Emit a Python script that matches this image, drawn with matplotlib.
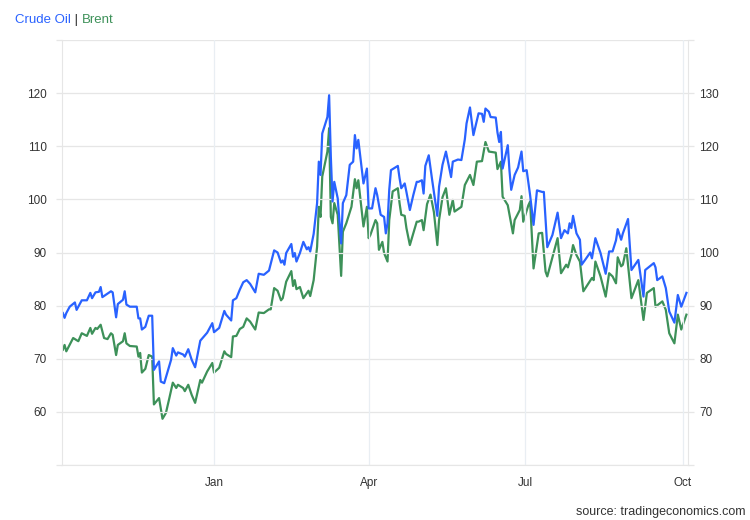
import matplotlib
matplotlib.use("Agg")
import matplotlib.pyplot as plt
import pandas as pd

plt.rcParams['font.family'] = ['Liberation Sans', 'DejaVu Sans']

# ---------------- data ----------------
crude_dates = [
    "2021-10-05", "2021-10-06", "2021-10-07", "2021-10-09", "2021-10-12", "2021-10-13",
    "2021-10-16", "2021-10-19", "2021-10-21", "2021-10-22", "2021-10-24", "2021-10-26",
    "2021-10-27", "2021-10-28", "2021-11-02", "2021-11-03", "2021-11-05", "2021-11-06",
    "2021-11-09", "2021-11-10", "2021-11-11", "2021-11-13", "2021-11-17", "2021-11-18",
    "2021-11-19", "2021-11-20", "2021-11-22", "2021-11-24", "2021-11-26", "2021-11-27",
    "2021-11-30", "2021-12-01", "2021-12-03", "2021-12-04", "2021-12-07", "2021-12-08",
    "2021-12-10", "2021-12-11", "2021-12-14", "2021-12-15", "2021-12-17", "2021-12-19",
    "2021-12-21", "2021-12-24", "2021-12-28", "2021-12-31", "2022-01-01", "2022-01-04",
    "2022-01-07", "2022-01-08", "2022-01-11", "2022-01-12", "2022-01-14", "2022-01-16",
    "2022-01-18", "2022-01-20", "2022-01-22", "2022-01-25", "2022-01-27", "2022-01-30",
    "2022-02-02", "2022-02-05", "2022-02-07", "2022-02-09", "2022-02-10", "2022-02-11",
    "2022-02-12", "2022-02-15", "2022-02-16", "2022-02-17", "2022-02-18", "2022-02-20",
    "2022-02-22", "2022-02-24", "2022-02-25", "2022-02-26", "2022-02-28", "2022-03-02",
    "2022-03-03", "2022-03-04", "2022-03-05", "2022-03-08", "2022-03-09", "2022-03-10",
    "2022-03-11", "2022-03-12", "2022-03-14", "2022-03-16", "2022-03-17", "2022-03-19",
    "2022-03-21", "2022-03-23", "2022-03-24", "2022-03-25", "2022-03-26", "2022-03-29",
    "2022-03-31", "2022-04-01", "2022-04-03", "2022-04-05", "2022-04-06", "2022-04-08",
    "2022-04-10", "2022-04-11", "2022-04-12", "2022-04-13", "2022-04-14", "2022-04-18",
    "2022-04-19", "2022-04-20", "2022-04-22", "2022-04-23", "2022-04-25", "2022-04-27",
    "2022-04-29", "2022-04-30", "2022-05-02", "2022-05-03", "2022-05-04", "2022-05-06",
    "2022-05-08", "2022-05-11", "2022-05-12", "2022-05-14", "2022-05-16", "2022-05-19",
    "2022-05-20", "2022-05-23", "2022-05-25", "2022-05-27", "2022-05-28", "2022-05-30",
    "2022-06-01", "2022-06-04", "2022-06-06", "2022-06-07", "2022-06-08", "2022-06-10",
    "2022-06-11", "2022-06-14", "2022-06-15", "2022-06-16", "2022-06-17", "2022-06-18",
    "2022-06-21", "2022-06-22", "2022-06-23", "2022-06-25", "2022-06-27", "2022-06-29",
    "2022-06-30", "2022-07-02", "2022-07-04", "2022-07-06", "2022-07-08", "2022-07-11",
    "2022-07-12", "2022-07-14", "2022-07-17", "2022-07-20", "2022-07-22", "2022-07-24",
    "2022-07-26", "2022-07-27", "2022-07-28", "2022-07-29", "2022-07-31", "2022-08-02",
    "2022-08-03", "2022-08-05", "2022-08-08", "2022-08-09", "2022-08-11", "2022-08-14",
    "2022-08-17", "2022-08-19", "2022-08-21", "2022-08-23", "2022-08-24", "2022-08-26",
    "2022-08-27", "2022-08-30", "2022-09-01", "2022-09-05", "2022-09-08", "2022-09-09",
    "2022-09-14", "2022-09-15", "2022-09-16", "2022-09-19", "2022-09-21", "2022-09-23",
    "2022-09-26", "2022-09-28", "2022-09-30", "2022-10-03",
]
crude_values = [
    78.6, 77.7, 78.6, 79.8, 80.6, 79.2,
    81.0, 81.0, 82.4, 81.4, 82.5, 82.6,
    83.5, 81.6, 82.7, 82.5, 77.8, 80.3,
    81.1, 82.7, 80.2, 79.8, 79.8, 77.6,
    77.6, 75.5, 76.0, 78.1, 78.1, 67.9,
    69.5, 65.7, 65.4, 66.5, 69.8, 72.0,
    70.6, 71.2, 70.8, 70.4, 71.8, 69.8,
    68.4, 73.4, 74.9, 76.7, 75.0, 75.8,
    79.0, 78.3, 77.2, 81.0, 81.4, 83.0,
    84.4, 84.8, 84.1, 82.5, 86.0, 85.8,
    86.6, 90.4, 90.0, 88.1, 88.5, 87.7,
    89.9, 91.6, 89.2, 89.9, 88.3, 89.9,
    92.0, 90.6, 91.0, 90.2, 93.5, 99.3,
    107.1, 104.6, 112.4, 115.5, 119.6, 108.0,
    99.6, 103.3, 100.2, 91.7, 99.3, 100.8,
    106.5, 107.1, 112.1, 109.6, 111.2, 103.0,
    105.8, 98.3, 98.3, 102.1, 100.8, 97.1,
    96.7, 93.6, 95.5, 101.8, 105.5, 106.3,
    104.0, 102.1, 103.0, 101.4, 98.0, 100.8,
    103.3, 103.3, 103.6, 101.1, 106.3, 108.3,
    103.6, 96.9, 102.4, 106.5, 109.0, 104.2,
    107.1, 107.5, 107.4, 111.3, 114.3, 117.3,
    112.1, 116.2, 116.1, 114.6, 117.1, 116.5,
    115.5, 115.4, 112.6, 110.8, 112.7, 105.8,
    110.2, 105.4, 101.8, 104.6, 106.0, 109.0,
    105.3, 105.5, 100.8, 95.2, 101.7, 101.4,
    101.4, 91.0, 93.3, 97.5, 92.7, 94.2,
    93.6, 95.5, 94.6, 96.9, 93.6, 92.4,
    87.7, 88.6, 90.0, 88.9, 92.7, 89.9,
    86.0, 90.2, 90.2, 92.3, 94.4, 92.4,
    93.6, 96.3, 86.7, 88.6, 81.7, 86.7,
    88.0, 87.2, 84.8, 85.5, 83.3, 78.9,
    76.8, 82.0, 79.8, 82.4,
]

brent_dates = [
    "2021-10-05", "2021-10-06", "2021-10-07", "2021-10-11", "2021-10-14", "2021-10-16",
    "2021-10-19", "2021-10-21", "2021-10-22", "2021-10-24", "2021-10-25", "2021-10-27",
    "2021-10-29", "2021-10-31", "2021-11-02", "2021-11-03", "2021-11-05", "2021-11-06",
    "2021-11-09", "2021-11-10", "2021-11-11", "2021-11-13", "2021-11-17", "2021-11-18",
    "2021-11-19", "2021-11-20", "2021-11-22", "2021-11-24", "2021-11-26", "2021-11-27",
    "2021-11-30", "2021-12-02", "2021-12-04", "2021-12-06", "2021-12-08", "2021-12-10",
    "2021-12-11", "2021-12-14", "2021-12-15", "2021-12-17", "2021-12-19", "2021-12-21",
    "2021-12-24", "2021-12-25", "2021-12-28", "2021-12-31", "2022-01-01", "2022-01-04",
    "2022-01-07", "2022-01-08", "2022-01-11", "2022-01-12", "2022-01-14", "2022-01-16",
    "2022-01-18", "2022-01-20", "2022-01-22", "2022-01-25", "2022-01-27", "2022-01-30",
    "2022-02-02", "2022-02-03", "2022-02-05", "2022-02-07", "2022-02-09", "2022-02-10",
    "2022-02-12", "2022-02-15", "2022-02-16", "2022-02-17", "2022-02-18", "2022-02-20",
    "2022-02-22", "2022-02-25", "2022-02-26", "2022-02-28", "2022-03-02", "2022-03-03",
    "2022-03-04", "2022-03-05", "2022-03-08", "2022-03-09", "2022-03-10", "2022-03-11",
    "2022-03-12", "2022-03-14", "2022-03-16", "2022-03-17", "2022-03-19", "2022-03-22",
    "2022-03-24", "2022-03-25", "2022-03-26", "2022-03-29", "2022-03-31", "2022-04-01",
    "2022-04-02", "2022-04-05", "2022-04-06", "2022-04-07", "2022-04-09", "2022-04-10",
    "2022-04-12", "2022-04-13", "2022-04-15", "2022-04-18", "2022-04-19", "2022-04-20",
    "2022-04-22", "2022-04-23", "2022-04-25", "2022-04-27", "2022-04-29", "2022-04-30",
    "2022-05-02", "2022-05-03", "2022-05-05", "2022-05-07", "2022-05-09", "2022-05-11",
    "2022-05-12", "2022-05-14", "2022-05-16", "2022-05-18", "2022-05-20", "2022-05-21",
    "2022-05-25", "2022-05-27", "2022-05-30", "2022-06-01", "2022-06-03", "2022-06-06",
    "2022-06-08", "2022-06-10", "2022-06-14", "2022-06-15", "2022-06-17", "2022-06-18",
    "2022-06-21", "2022-06-24", "2022-06-25", "2022-06-28", "2022-06-29", "2022-06-30",
    "2022-07-03", "2022-07-04", "2022-07-06", "2022-07-09", "2022-07-11", "2022-07-13",
    "2022-07-14", "2022-07-20", "2022-07-22", "2022-07-25", "2022-07-26", "2022-07-28",
    "2022-07-29", "2022-07-31", "2022-08-02", "2022-08-04", "2022-08-09", "2022-08-10",
    "2022-08-11", "2022-08-14", "2022-08-17", "2022-08-19", "2022-08-21", "2022-08-23",
    "2022-08-24", "2022-08-26", "2022-08-27", "2022-08-29", "2022-09-01", "2022-09-05",
    "2022-09-08", "2022-09-10", "2022-09-14", "2022-09-15", "2022-09-19", "2022-09-21",
    "2022-09-23", "2022-09-26", "2022-09-28", "2022-09-30", "2022-10-03",
]
brent_values = [
    81.7, 82.6, 81.4, 83.9, 83.3, 84.8,
    84.3, 85.8, 84.7, 85.8, 85.6, 86.4,
    83.9, 83.7, 84.8, 84.5, 80.7, 82.6,
    83.3, 84.8, 82.9, 82.4, 82.3, 80.4,
    81.1, 77.4, 78.1, 80.7, 80.4, 71.4,
    72.6, 68.7, 69.8, 72.6, 75.5, 74.5,
    75.1, 74.5, 73.9, 75.1, 73.2, 71.7,
    76.0, 75.5, 77.6, 79.2, 77.4, 78.3,
    81.4, 80.9, 80.3, 84.2, 84.3, 85.6,
    86.0, 87.6, 87.0, 85.5, 88.7, 88.6,
    89.3, 89.3, 93.3, 92.8, 91.0, 91.4,
    94.5, 96.5, 93.7, 94.8, 93.1, 93.5,
    91.4, 92.8, 91.8, 94.8, 101.1, 108.6,
    106.7, 114.3, 119.0, 123.4, 106.7, 105.5,
    109.3, 107.1, 95.6, 103.9, 105.5, 108.6,
    113.8, 112.1, 113.6, 104.9, 108.6, 102.7,
    103.3, 106.1, 105.5, 100.5, 102.0, 99.9,
    98.3, 106.1, 111.5, 112.1, 109.3, 107.1,
    106.9, 104.6, 101.4, 103.6, 105.8, 105.8,
    106.1, 104.2, 109.1, 110.9, 107.6, 101.4,
    106.1, 110.4, 112.1, 107.1, 109.9, 107.7,
    108.6, 112.7, 114.6, 112.7, 117.1, 117.2,
    120.8, 119.0, 118.8, 115.7, 117.1, 110.5,
    108.9, 103.6, 106.1, 108.0, 110.6, 105.8,
    108.9, 109.6, 97.0, 103.6, 103.7, 96.4,
    95.5, 102.7, 96.1, 97.7, 97.2, 99.5,
    101.4, 99.5, 98.3, 92.7, 95.2, 94.8,
    98.3, 95.5, 91.7, 96.1, 95.5, 94.2,
    99.1, 97.4, 97.7, 100.8, 91.4, 94.8,
    87.3, 92.4, 93.3, 89.8, 90.8, 89.2,
    84.8, 82.9, 88.3, 85.5, 88.3,
]

y_left_ticks = [50, 60, 70, 80, 90, 100, 110, 120, 130]
y_right_ticks = [60, 70, 80, 90, 100, 110, 120, 130, 140]
x_tick_dates = ["2022-01-01", "2022-04-01", "2022-07-01", "2022-10-01"]
x_tick_labels = ["Jan", "Apr", "Jul", "Oct"]

# ---------------- figure ----------------
BLUE = "#2962ff"
GREEN = "#3d9159"
GRID = "#e6e6e6"
VGRID = "#e9eef3"
TXT = "#333333"

fig = plt.figure(figsize=(7.5, 5.2), dpi=100)
ax = fig.add_axes([62 / 750, 55 / 520, 626 / 750, 425 / 520])
ax2 = ax.twinx()

cd = pd.to_datetime(crude_dates)
bd = pd.to_datetime(brent_dates)

ax2.plot(bd, brent_values, color=GREEN, lw=1.6, solid_joinstyle="round")
ax.plot(cd, crude_values, color=BLUE, lw=1.6, solid_joinstyle="round")
ax.set_zorder(ax2.get_zorder() + 1)
ax.patch.set_visible(False)

ax.set_ylim(50, 130)
ax2.set_ylim(60, 140)
ax.set_xlim(pd.Timestamp("2021-10-04 12:00"), pd.Timestamp("2022-10-03 22:00"))

ax.set_yticks(y_left_ticks)
ax.set_yticklabels(["" if v in (50, 130) else str(v) for v in y_left_ticks])
ax2.set_yticks(y_right_ticks)
ax2.set_yticklabels(["" if v in (60, 140) else str(v) for v in y_right_ticks])

xt = pd.to_datetime(x_tick_dates)
ax.set_xticks(xt)
ax.set_xticklabels(x_tick_labels)
for lab in ax.get_xticklabels():
    lab.set_va("baseline")

# grid lines
for v in y_left_ticks:
    ax.axhline(v, color=GRID, lw=0.9, zorder=0)
for d in xt:
    ax.axvline(d, color=VGRID, lw=0.9, zorder=0)

for a in (ax, ax2):
    for s in a.spines.values():
        s.set_visible(False)
ax.spines["left"].set_visible(True)
ax.spines["left"].set_color(GRID)
ax.spines["bottom"].set_visible(True)
ax.spines["bottom"].set_color(GRID)
ax2.spines["right"].set_visible(True)
ax2.spines["right"].set_color(GRID)

ax.tick_params(axis="y", length=4, width=0.9, color=GRID, pad=7, labelsize=8.5, labelcolor=TXT)
ax2.tick_params(axis="y", length=4, width=0.9, color=GRID, pad=4, labelsize=8.5, labelcolor=TXT)
ax.tick_params(axis="x", length=0, pad=15, labelsize=8.5, labelcolor=TXT)

# title pieces
t1 = fig.text(15 / 750, 1 - 20 / 520, "Crude Oil", color=BLUE, fontsize=9.5, va="center", ha="left")
t2 = ax.annotate(" | ", xy=(1, 0), xycoords=t1, va="bottom", ha="left", color=TXT, fontsize=9.5,
                 annotation_clip=False)
t3 = ax.annotate("Brent", xy=(1, 0), xycoords=t2, va="bottom", ha="left", color=GREEN, fontsize=9.5,
                 annotation_clip=False)

fig.text(1 - 5 / 750, 1 - 512 / 520, "source: tradingeconomics.com", color=TXT, fontsize=9,
         ha="right", va="center")

fig.savefig("out.png", dpi=100)
